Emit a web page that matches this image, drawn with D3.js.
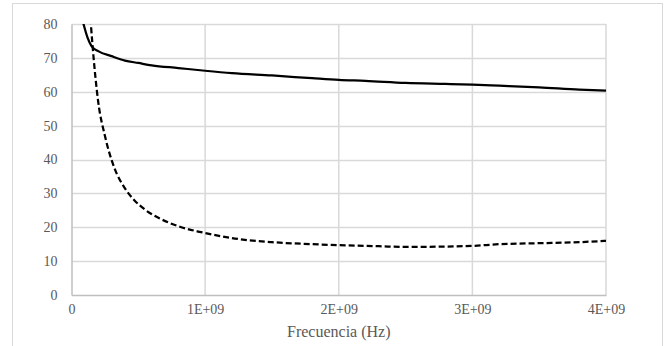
<!DOCTYPE html>
<html><head><meta charset="utf-8">
<script src="https://cdn.jsdelivr.net/npm/d3@7"></script>
</head><body style="margin:0">
<script>
const xTicks = [0, 1e9, 2e9, 3e9, 4e9];
const xTickLabels = ["0", "1E+09", "2E+09", "3E+09", "4E+09"];
const yTicks = [0, 10, 20, 30, 40, 50, 60, 70, 80];
const xTitle = "Frecuencia (Hz)";
const solidFreq = [0.05e9,0.09e9,0.12e9,0.15e9,0.2e9,0.3e9,0.4e9,0.5e9,0.6e9,0.8e9,1.0e9,1.2e9,1.5e9,1.8e9,2.0e9,2.2e9,2.5e9,2.8e9,3.0e9,3.2e9,3.5e9,3.8e9,4.0e9];
const solidVal  = [87,80,76,73.5,72,70.5,69.2,68.5,67.8,67,66.2,65.5,64.8,64,63.5,63.2,62.6,62.3,62.1,61.8,61.3,60.6,60.3];
const dashFreq = [0.12e9,0.145e9,0.17e9,0.2e9,0.25e9,0.32e9,0.4e9,0.47e9,0.55e9,0.66e9,0.8e9,0.94e9,1.0e9,1.2e9,1.5e9,1.8e9,2.0e9,2.3e9,2.5e9,2.8e9,3.0e9,3.2e9,3.5e9,3.8e9,4.0e9];
const dashVal  = [95,80,68,57,47,37.6,31.5,28,25.2,22.6,20.3,18.8,18.3,16.8,15.6,15,14.7,14.4,14.2,14.3,14.5,15,15.3,15.6,16];

const W = 667, H = 346;
const svg = d3.select("body").append("svg").attr("width", W).attr("height", H)
  .style("display","block");
svg.append("rect").attr("x",12.5).attr("y",3.5).attr("width",650).attr("height",360)
  .attr("fill","#fff").attr("stroke","#d9d9d9").attr("stroke-width",1);

const x = d3.scaleLinear().domain([0,4e9]).range([71.5,606]);
const y = d3.scaleLinear().domain([0,80]).range([295,24]);

svg.append("g").selectAll("line").data(yTicks.filter(d=>d>0)).join("line")
  .attr("x1",x(0)).attr("x2",x(4e9)).attr("y1",d=>Math.round(y(d))+0.5).attr("y2",d=>Math.round(y(d))+0.5)
  .attr("stroke","#d9d9d9").attr("stroke-width",1.5);
svg.append("g").selectAll("line").data(xTicks.filter(d=>d>0)).join("line")
  .attr("x1",d=>x(d)).attr("x2",d=>x(d)).attr("y1",y(0)).attr("y2",y(80))
  .attr("stroke","#d9d9d9").attr("stroke-width",1.5);

const xAxis = d3.axisBottom(x).tickValues(xTicks).tickFormat((d,i)=>xTickLabels[i]).tickSize(0).tickPadding(9);
const gx = svg.append("g").attr("transform",`translate(0,${y(0)})`).call(xAxis);
gx.select(".domain").attr("stroke","#bfbfbf").attr("stroke-width",1.5);
const yAxis = d3.axisLeft(y).tickValues(yTicks).tickSize(0).tickPadding(14);
const gy = svg.append("g").attr("transform",`translate(${x(0)},0)`).call(yAxis);
gy.select(".domain").attr("stroke","#bfbfbf").attr("stroke-width",1.5);
[gx, gy].forEach(g => {
  g.attr("font-family", null).attr("font-size", null);
  g.selectAll("text").style("font-family", "'Liberation Serif'").style("font-size", "14px").attr("fill", "#595959");
});

svg.append("text").attr("x",(x(0)+x(4e9))/2).attr("y",337).attr("text-anchor","middle")
  .style("font-family","'Liberation Serif'").style("font-size","16px").attr("fill","#595959").text(xTitle);

svg.append("clipPath").attr("id","clip").append("rect")
  .attr("x",x(0)).attr("y",y(80)).attr("width",x(4e9)-x(0)).attr("height",y(0)-y(80));

const line = d3.line().x(d=>x(d[0])).y(d=>y(d[1])).curve(d3.curveMonotoneX);
const g = svg.append("g").attr("clip-path","url(#clip)");
g.append("path").datum(solidFreq.map((f,i)=>[f,solidVal[i]])).attr("d",line)
  .attr("fill","none").attr("stroke","#000").attr("stroke-width",2.25);
g.append("path").datum(dashFreq.map((f,i)=>[f,dashVal[i]])).attr("d",line)
  .attr("fill","none").attr("stroke","#000").attr("stroke-width",2.25).attr("stroke-dasharray","6,3");
</script>
</body></html>
